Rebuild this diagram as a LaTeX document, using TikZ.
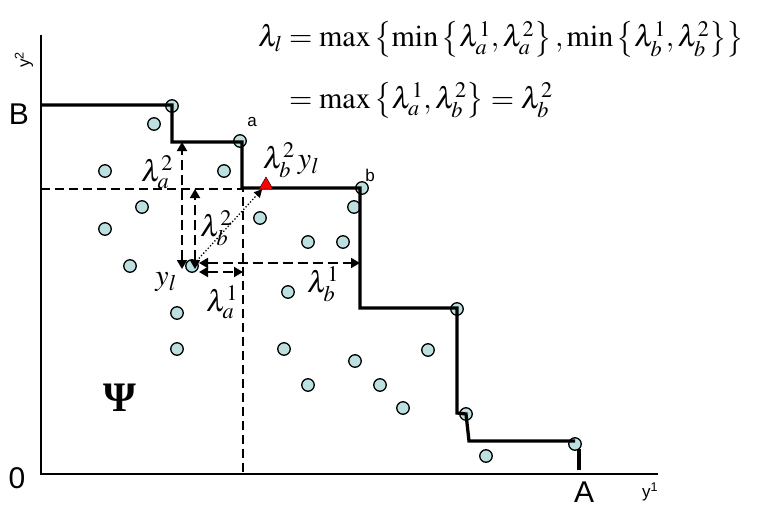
\documentclass[tikz,border=0pt]{standalone}
\usepackage{amsmath}
\usepackage{mathptmx}
\usepackage{fontspec}
\setmainfont{Liberation Serif}
\newfontfamily\arialf{Liberation Sans}
\usetikzlibrary{arrows.meta,shapes.geometric}
\definecolor{pointC}{HTML}{BCE0E0}
\definecolor{rougeT}{HTML}{FF0000}
\tikzset{
  pnt/.style={circle, draw=black, line width=1.3pt, fill=pointC, minimum size=12.5pt, inner sep=0pt},
  front/.style={line width=3.3pt, line join=miter},
  guide/.style={line width=1.2pt, dash pattern=on 9pt off 5pt},
  arr/.style={{Triangle[length=9pt,width=10pt]}-{Triangle[length=9pt,width=10pt]},
              line width=1.8pt, dash pattern=on 10pt off 5pt},
  lab/.style={font=\fontsize{30}{30}\selectfont, inner sep=0pt},
  eqn/.style={font=\fontsize{30}{30}\selectfont, inner sep=0pt, anchor=base west},
  sfbig/.style={font=\arialf\fontsize{30}{30}\selectfont, inner sep=0pt},
  sfsmall/.style={font=\arialf\fontsize{17}{17}\selectfont, inner sep=0pt},
}

\begin{document}
\begin{tikzpicture}[x=1pt,y=-1pt]
  \useasboundingbox (0,0) rectangle (779,511);
  % axes
  \draw[line width=2.2pt] (41,35) -- (41,474) -- (517,474);
  \draw[line width=1.4pt] (517,474) -- (658,474);
  \draw[guide] (41,189) -- (243,189) -- (243,474);
  % points
  \foreach \x/\y [count=\i] in {172/106, 154/124, 105/171, 224/171, 142/207, 260/218,
      354/207, 105/229, 308/242, 343/242, 130/266, 288/292, 177/313, 457/309,
      177/349, 284/349, 355/361, 428/350, 308/385, 380/385, 403/408, 466/414,
      486/456, 575/444}
    \node[pnt] (p\i) at (\x,\y) {};
  \node[pnt] (pa) at (240,141) {};
  \node[pnt] (pb) at (362,188) {};
  \node[pnt] (yl) at (192,266) {};
  % frontier
  \draw[front] (41,105) -| (172,142) -| (242,188) -| (360,308) -| (457,413)
     -- (466,414) -- (469,441) -- (575,441);
  \draw[front] (579,449) -- (579,470);
  \node[regular polygon, regular polygon sides=3, fill=rougeT, draw=black, line width=0.4pt,
        minimum size=16pt, inner sep=0pt] (tri) at (266,185) {};
  % distances
  \coordinate (ya) at (182,269); \coordinate (fa) at (182,142);
  \coordinate (yb) at (195,269); \coordinate (fb) at (195,189);
  \coordinate (yc) at (199,263); \coordinate (fc) at (360,263);
  \coordinate (yd) at (199,272); \coordinate (fd) at (243,272);
  \draw[arr] (ya) -- (fa);
  \draw[arr] (yb) -- (fb);
  \draw[arr] (yc) -- (fc);
  \draw[arr] (yd) -- (fd);
  \draw[dotted, line width=1.3pt, -{Triangle[length=8pt,width=8pt]}] (yl) -- (tri);
  % labels
  \node[lab] (la2) at (157,172) {$\lambda_a^2$};
  \node[lab] (lb2y) at (291,160) {$\lambda_b^2\,y_l$};
  \node[lab] (lb2) at (216,228) {$\lambda_b^2$};
  \node[lab] (yll) at (166,282) {$y_l$};
  \node[lab] (la1) at (222,302) {$\lambda_a^1$};
  \node[lab] (lb1) at (323,284) {$\lambda_b^1$};
  \node[font=\bfseries\fontsize{42}{42}\selectfont, inner sep=0pt] (psi) at (120,398) {Ψ};
  \node[sfbig] (B) at (19,114) {B};
  \node[sfbig] (O) at (17,478) {0};
  \node[sfbig] (A) at (584,492) {A};
  \node[sfsmall] (a) at (252,122) {a};
  \node[sfsmall] (b) at (370,175) {b};
  \node[sfsmall] (y1) at (650,492) {y\textsuperscript{1}};
  \node[sfsmall, rotate=90] (y2) at (24,60) {y\textsuperscript{2}};
  % formula
  \node[eqn] (eq1) at (258,47) {$\lambda_l = \max\left\{\min\left\{\lambda_a^1,\lambda_a^2\right\},\min\left\{\lambda_b^1,\lambda_b^2\right\}\right\}$};
  \node[eqn] (eq2) at (258,108) {$\phantom{\lambda_l} = \max\left\{\lambda_a^1,\lambda_b^2\right\} = \lambda_b^2$};
\end{tikzpicture}
\end{document}
